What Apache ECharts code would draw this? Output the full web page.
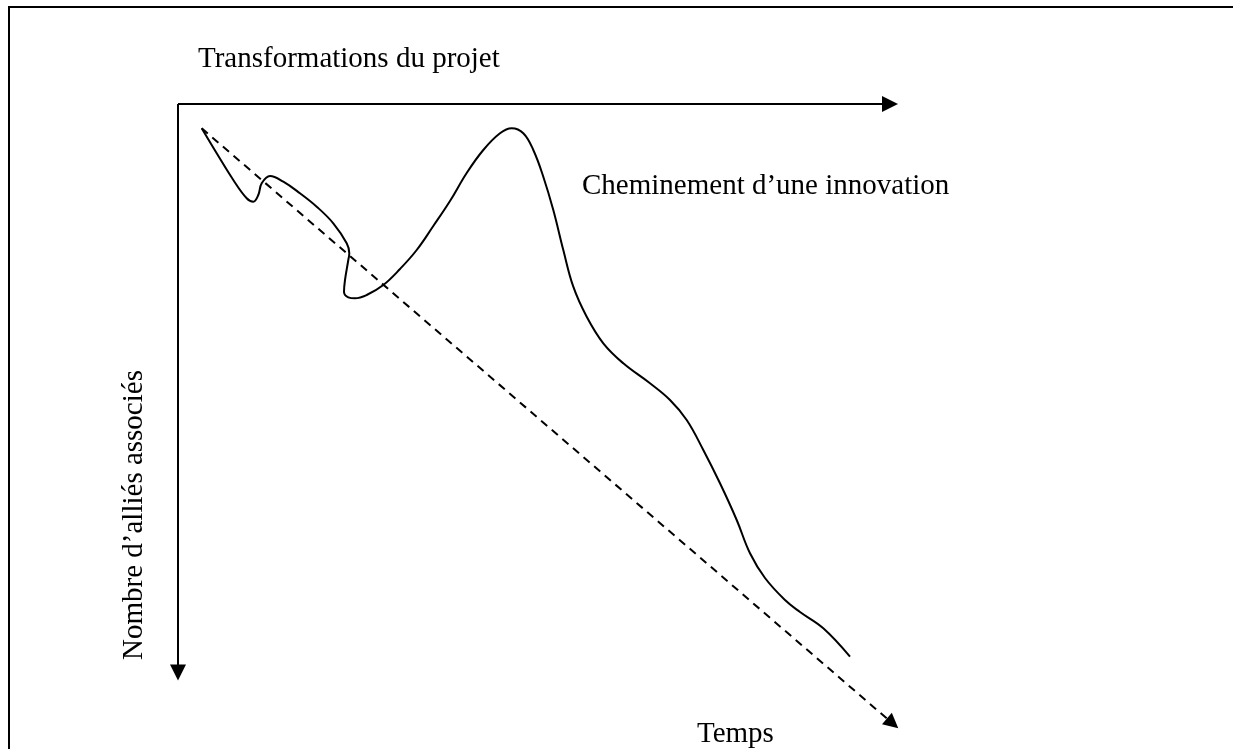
<!DOCTYPE html>
<html>
<head>
<meta charset="utf-8">
<title>Cheminement d'une innovation</title>
<script src="https://cdn.jsdelivr.net/npm/echarts@6/dist/echarts.min.js"></script>
<style>
  html, body { margin: 0; padding: 0; background: #fff; }
  #main { width: 1233px; height: 749px; }
</style>
</head>
<body>
<div id="main"></div>
<script>
// path of the innovation: time (to the right) and number of allies (downward)
const pathTime = [2.37, 3.87, 5.53, 6.87, 7.53, 8.03, 8.37, 9.2, 10.53, 12.2, 13.87, 15.53, 16.87,
  17.13, 17.03, 16.7, 16.6, 17.03, 17.7, 18.87, 20.53, 22.2, 23.87, 25.53, 27.2, 28.87, 30.53,
  32.2, 33.37, 34.53, 35.53, 36.53, 37.53, 38.53, 39.53, 40.87, 42.53, 44.53, 47.2, 49.2, 50.87,
  52.53, 54.2, 55.87, 57.2, 58.7, 60.7, 62.2, 64.53, 67.2];
const pathAllies = [2.43, 4.93, 7.6, 9.43, 9.77, 9.1, 7.93, 7.2, 7.77, 8.93, 10.27, 11.93, 13.93,
  14.93, 15.6, 17.6, 18.77, 19.33, 19.43, 19.1, 18.1, 16.5, 14.6, 12.2, 9.7, 6.9, 4.6,
  2.93, 2.43, 2.93, 4.6, 7.27, 10.6, 14.6, 18.27, 21.27, 23.93, 25.93, 27.93, 29.6, 31.6,
  34.6, 37.93, 41.6, 44.93, 47.4, 49.6, 50.8, 52.43, 55.27];

// dashed "Temps" arrow
const timeArrowFrom = [2.37, 2.43];
const timeArrowTo = [71.46, 61.94];

// the two axis arrows
const axisOrigin = [0, 0];
const projectAxisEnd = [71.2, 0];
const alliesAxisEnd = [0, 56.85];

const projectLabel = 'Transformations du projet';
const alliesLabel = 'Nombre d\u2019alliés associés';
const pathLabel = 'Cheminement d\u2019une innovation';
const timeLabel = 'Temps';

const chart = echarts.init(document.getElementById('main'));
const font = '29px "Liberation Serif", "Times New Roman", serif';

const option = {
  animation: false,
  backgroundColor: '#fff',
  grid: { left: 178, top: 104, width: 720, height: 645, outerBoundsMode: 'none' },
  xAxis: { type: 'value', min: 0, max: 72, show: false },
  yAxis: { type: 'value', min: 0, max: 64.5, inverse: true, show: false },
  series: [
    {
      type: 'line',
      data: pathTime.map((t, i) => [t, pathAllies[i]]),
      smooth: 0.4,
      symbol: 'none',
      silent: true,
      clip: false,
      lineStyle: { color: '#000', width: 2 }
    },
    {
      type: 'lines',
      coordinateSystem: 'cartesian2d',
      silent: true,
      clip: false,
      symbol: ['none', 'triangle'],
      symbolSize: 16,
      lineStyle: { color: '#000', width: 2, opacity: 1 },
      data: [
        { coords: [axisOrigin, projectAxisEnd] },
        { coords: [axisOrigin, alliesAxisEnd] }
      ]
    },
    {
      type: 'lines',
      coordinateSystem: 'cartesian2d',
      silent: true,
      clip: false,
      symbol: ['none', 'triangle'],
      symbolSize: 15,
      lineStyle: { color: '#000', width: 2, opacity: 1, type: [8, 6] },
      data: [{ coords: [timeArrowFrom, timeArrowTo] }]
    }
  ],
  graphic: [
    {
      type: 'rect',
      shape: { x: 9, y: 7, width: 1240, height: 760 },
      style: { fill: 'none', stroke: '#000', lineWidth: 2 }
    },
    {
      type: 'text', x: 198, y: 59,
      style: { text: projectLabel, font: font, fill: '#000', align: 'left', verticalAlign: 'middle' }
    },
    {
      type: 'text', x: 582, y: 186,
      style: { text: pathLabel, font: font, fill: '#000', align: 'left', verticalAlign: 'middle' }
    },
    {
      type: 'text', x: 697, y: 734,
      style: { text: timeLabel, font: font, fill: '#000', align: 'left', verticalAlign: 'middle' }
    },
    {
      type: 'text', x: 134, y: 515, rotation: Math.PI / 2,
      style: { text: alliesLabel, font: font, fill: '#000', align: 'center', verticalAlign: 'middle' }
    }
  ]
};

chart.setOption(option);
</script>
</body>
</html>
